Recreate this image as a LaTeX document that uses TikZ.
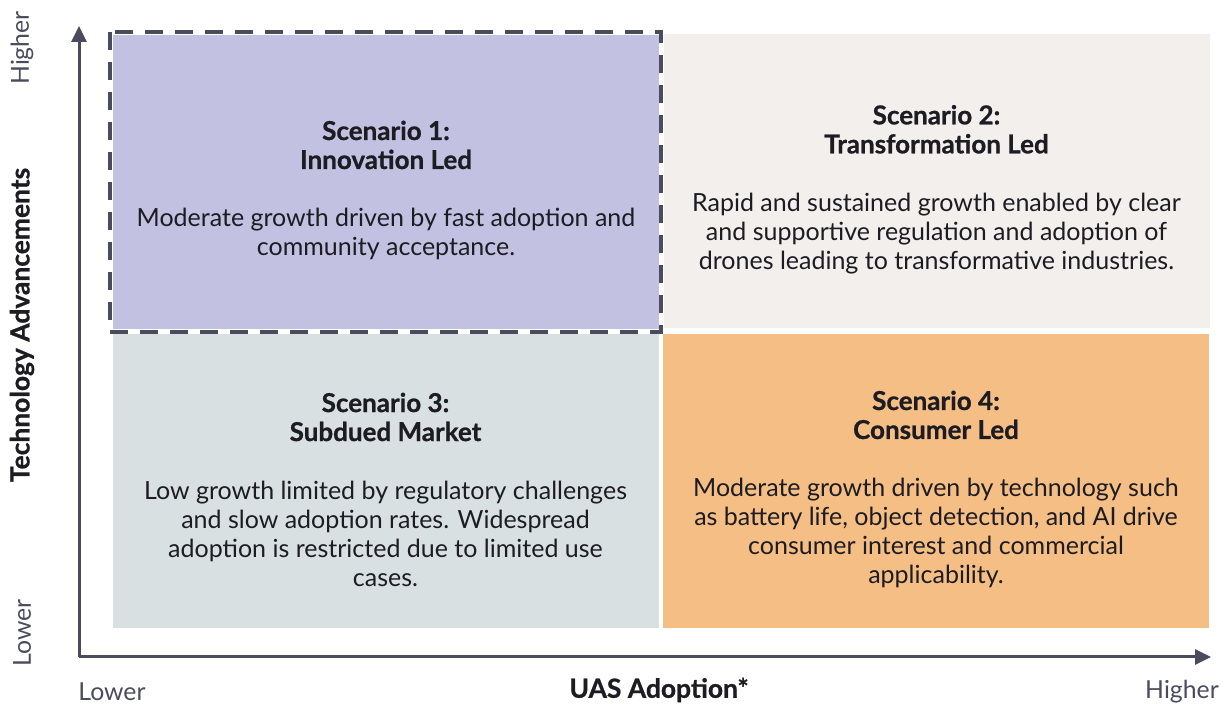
\documentclass[tikz,border=0pt]{standalone}
\usepackage{fontspec}
\setmainfont{Lato}
\newfontfamily\heavyfont{Lato}[BoldFeatures={FakeBold=0.8}]
\usetikzlibrary{arrows.meta,positioning}
\definecolor{axisgray}{HTML}{4A4C5E}
\definecolor{txtdark}{HTML}{1C1C22}
\definecolor{innov}{HTML}{C2C1E1}
\definecolor{transf}{HTML}{F2EFEC}
\definecolor{subdued}{HTML}{D9E0E2}
\definecolor{consumer}{HTML}{F5BE85}
\newcommand{\qtitle}[1]{{\fontsize{13}{14.5}\selectfont\heavyfont\bfseries #1}}

\begin{document}
\begin{tikzpicture}[x=0.5pt,y=-0.5pt,>={Triangle[length=8pt,width=7.5pt]}]
\tikzset{
  quad/.style={minimum width=273pt,minimum height=147pt,inner sep=0pt},
  quadtxt/.style={inner sep=0pt,align=center,font=\fontsize{12.5}{14.5}\selectfont,text=txtdark},
  axis/.style={line width=1.5pt,draw=axisgray,->},
  dashbox/.style={draw=axisgray,line width=2pt,dash pattern=on 9pt off 6pt},
  axlabel/.style={font=\fontsize{12.4}{13}\selectfont,text=axisgray,inner sep=0pt},
  axtitle/.style={font=\fontsize{13.2}{14}\selectfont\heavyfont\bfseries,text=txtdark,inner sep=0pt}
}
\useasboundingbox (0,0) rectangle (1227,704);

% quadrants
\node[quad,fill=innov] (b1) at (386,182.5) {};
\node[quad,fill=transf] (b2) at (936.5,181.5) {};
\node[quad,fill=subdued] (b3) at (385.5,481.5) {};
\node[quad,fill=consumer] (b4) at (936,481.5) {};

\node[quadtxt] (t1) at ([yshift=-4pt]b1.center) {\qtitle{Scenario 1:}\\\qtitle{Innovation Led}\\[14.5pt]
  Moderate growth driven by fast adoption and\\community acceptance.};
\node[quadtxt] (t2) at ([yshift=-4pt]b2.center) {\qtitle{Scenario 2:}\\\qtitle{Transformation Led}\\[14.5pt]
  Rapid and sustained growth enabled by clear\\and supportive regulation and adoption of\\drones leading to transformative industries.};
\node[quadtxt] (t3) at ([yshift=-4pt]b3.center) {\qtitle{Scenario 3:}\\\qtitle{Subdued Market}\\[14.5pt]
  Low growth limited by regulatory challenges\\and slow adoption rates. Widespread\\adoption is restricted due to limited use\\cases.};
\node[quadtxt] (t4) at ([yshift=-4pt]b4.center) {\qtitle{Scenario 4:}\\\qtitle{Consumer Led}\\[14.5pt]
  Moderate growth driven by technology such\\as battery life, object detection, and AI drive\\consumer interest and commercial\\applicability.};

% highlighted scenario
\draw[dashbox] ([shift={(-1.5pt,1.5pt)}]b1.north west) rectangle ([shift={(1pt,-1pt)}]b1.south east);

% axes
\coordinate (o) at (79,657);
\coordinate (ytip) at (79,26);
\coordinate (xtip) at (1211,657);
\draw[axis] (o) -- (ytip);
\draw[axis] (o) -- (xtip);

% axis labels
\node[axlabel,rotate=90] (yhi) at (22,48) {Higher};
\node[axlabel,rotate=90] (ylo) at (22,633) {Lower};
\node[axtitle,rotate=90] (ytitle) at (22,325) {Technology Advancements};
\node[axlabel] (xlo) at (112,692) {Lower};
\node[axtitle] (xtitle) at (659,690) {UAS Adoption*};
\node[axlabel] (xhi) at (1182,692) {Higher};
\end{tikzpicture}
\end{document}
